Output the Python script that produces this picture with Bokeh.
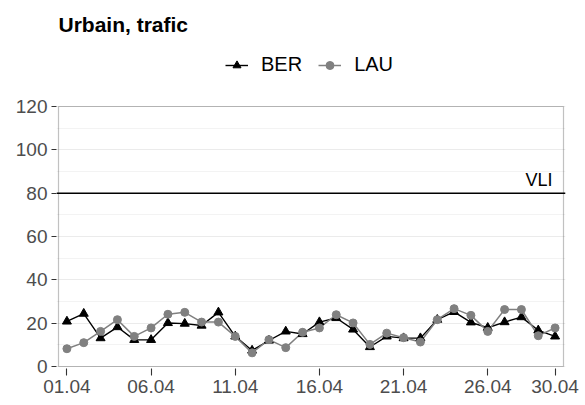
from bokeh.plotting import figure
from bokeh.models import (Span, Label, Legend, LegendItem, FixedTicker, Range1d,
                          BoxAnnotation)
from bokeh.embed import file_html
from bokeh.resources import INLINE

days = list(range(1, 31))
ber = [20.8, 24.4, 13.1, 18.2, 12.3, 12.3, 20.1, 19.8, 18.9, 25.0,
       13.9, 7.4, 12.0, 16.2, 15.0, 20.5, 22.4, 17.1, 9.0, 13.9,
       13.1, 13.1, 21.6, 25.2, 20.4, 17.9, 20.5, 22.8, 16.7, 13.9]
lau = [8.2, 11.0, 16.2, 21.6, 13.9, 17.8, 24.1, 25.0, 20.5, 20.5,
       13.9, 6.3, 12.4, 8.7, 15.8, 17.8, 23.9, 20.1, 10.2, 15.4,
       13.3, 11.3, 21.6, 26.7, 23.6, 16.2, 26.3, 26.3, 14.2, 17.8]
tick_days = [1, 6, 11, 16, 21, 26, 30]
tick_labels = ["01.04", "06.04", "11.04", "16.04", "21.04", "26.04", "30.04"]
y_ticks = [0, 20, 40, 60, 80, 100, 120]
y_minor = [10, 30, 50, 70, 90, 110]
x_lim = (0.5, 30.5)
y_lim = (0, 120)
vli = 80
title_text = "Urbain, trafic"

FONT = "Liberation Sans"

# frame is a little larger than the visible panel, which also hosts the title and legend
W, H = 585, 405
PL, PR, PB, PT = 58, 563, 366, 106          # panel box in pixels
FL, FR, FB, FT = 56, 565, 368, 0            # frame box in pixels
xs = (PR - PL) / (x_lim[1] - x_lim[0])
ys = (PB - PT) / (y_lim[1] - y_lim[0])
x_range = Range1d(x_lim[0] - (PL - FL) / xs, x_lim[1] + (FR - PR) / xs)
y_range = Range1d(y_lim[0] - (FB - PB) / ys, y_lim[1] + (PT - FT) / ys)

p = figure(width=W, height=H, output_backend="svg", toolbar_location=None,
           x_range=x_range, y_range=y_range,
           min_border_left=FL, min_border_right=W - FR, min_border_top=FT,
           min_border_bottom=H - FB)
p.title.visible = False
p.background_fill_color = "white"
p.border_fill_color = "white"
p.outline_line_color = None

# grids
p.xgrid.grid_line_color = None
p.ygrid.grid_line_color = "#ebebeb"
p.ygrid.grid_line_width = 1.1
p.ygrid.minor_grid_line_color = "#ebebeb"
p.ygrid.minor_grid_line_width = 0.6

p.xaxis.ticker = FixedTicker(ticks=tick_days)
p.xaxis.major_label_overrides = {d: l for d, l in zip(tick_days, tick_labels)}
p.yaxis.ticker = FixedTicker(ticks=y_ticks, minor_ticks=y_minor)

for ax in (p.xaxis[0], p.yaxis[0]):
    ax.axis_line_color = None
    ax.major_tick_line_color = "#333333"
    ax.major_tick_line_width = 1.1
    ax.major_tick_in = 0
    ax.minor_tick_line_color = None
    ax.major_label_text_font = FONT
    ax.major_label_text_font_size = "19px"
    ax.major_label_text_color = "#4d4d4d"
p.yaxis.major_tick_out = 5
p.yaxis.major_label_standoff = 4
p.xaxis.major_tick_out = 7
p.xaxis.major_label_standoff = 4

# panel border
p.add_layout(BoxAnnotation(left=x_lim[0], right=x_lim[1], bottom=y_lim[0], top=y_lim[1],
                           fill_alpha=0, line_color="#333333", line_width=1.2))

# VLI line
p.add_layout(Span(location=vli, dimension="width", line_color="black", line_width=1.5))
p.add_layout(Label(x=x_lim[1], y=vli, text="VLI", text_align="right",
                   text_baseline="bottom", x_offset=-11, y_offset=3, text_font=FONT,
                   text_font_size="18px", text_color="black"))

# series
l1 = p.line(days, ber, line_color="black", line_width=1.4)
l2 = p.line(days, lau, line_color="#808080", line_width=1.5)
s1 = p.scatter(days, ber, marker="triangle", size=9, fill_color="black", line_color="black")
s2 = p.scatter(days, lau, marker="circle", size=8, fill_color="#808080", line_color="#808080")

legend = Legend(items=[LegendItem(label="BER", renderers=[l1, s1]),
                       LegendItem(label="LAU", renderers=[l2, s2])],
                orientation="horizontal", location=(225 - FL, FB - 76),
                background_fill_alpha=0, border_line_color=None,
                padding=0, margin=0, spacing=16,
                glyph_width=23, glyph_height=20, label_standoff=13,
                label_text_font=FONT, label_text_font_size="20px",
                label_text_color="black")
p.add_layout(legend)

p.add_layout(Label(x=PL - FL, x_units="screen", y=FB - 24, y_units="screen", text=title_text,
                   text_align="left", text_baseline="alphabetic", text_font=FONT,
                   text_font_size="21px", text_font_style="bold", text_color="black"))

open("out.html", "w").write(file_html(p, INLINE))
